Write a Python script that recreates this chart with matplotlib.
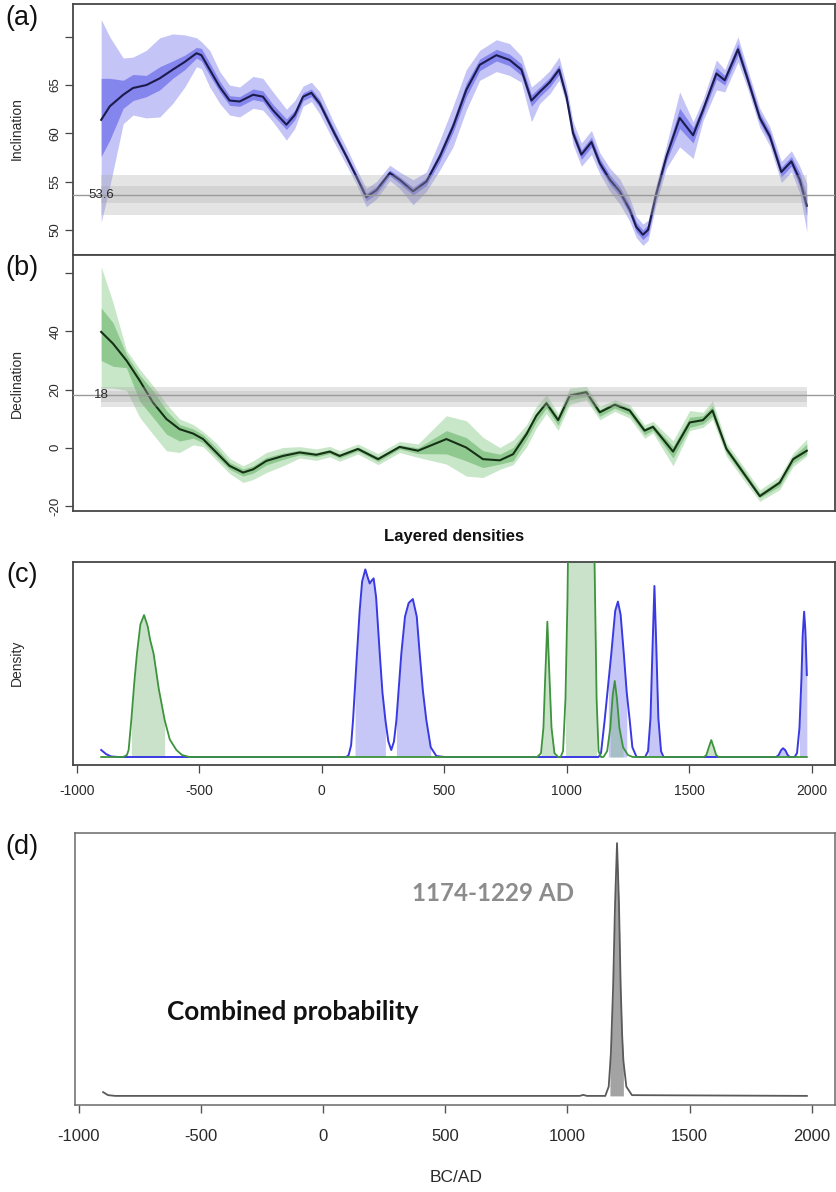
import numpy as np
import matplotlib
matplotlib.use('Agg')
import matplotlib.pyplot as plt

plt.rcParams['font.family'] = ['Liberation Sans', 'DejaVu Sans']
plt.rcParams['axes.unicode_minus'] = False

# ---------------- (a) Inclination ----------------
INC_YEARS = [-900, -865, -810, -770, -716, -661, -608, -559, -511, -491, -457, -416, -376, -335, -280,
             -240, -199, -144, -110, -76, -42, -8, 46, 101, 142, 182, 223, 278, 318, 373, 427, 482, 536,
             590, 645, 713, 767, 815, 856, 890, 931, 969, 999, 1026, 1060, 1101, 1135, 1176, 1216, 1257,
             1284, 1311, 1332, 1366, 1407, 1461, 1516, 1556, 1611, 1645, 1699, 1740, 1788, 1829, 1876,
             1917, 1951, 1980]
INC_MEAN = [61.4, 62.8, 64.0, 64.7, 65.0, 65.7, 66.6, 67.4, 68.3, 68.1, 66.6, 64.8, 63.4, 63.3, 64.0,
            63.8, 62.4, 60.9, 61.9, 63.8, 64.2, 63.1, 60.3, 57.6, 55.5, 53.4, 54.1, 55.9, 55.2, 54.0,
            55.0, 57.6, 60.7, 64.5, 67.1, 68.1, 67.6, 66.6, 63.4, 64.3, 65.3, 66.6, 63.8, 60.0, 57.8,
            59.1, 56.9, 55.2, 54.0, 52.1, 50.3, 49.5, 50.0, 53.8, 57.6, 61.6, 59.8, 62.4, 66.2, 65.5,
            68.7, 65.5, 61.6, 59.7, 56.0, 57.1, 55.2, 52.5]
INC_OUT_HI = [71.8, 70.0, 67.8, 67.9, 68.6, 69.9, 70.3, 70.2, 69.9, 69.5, 68.6, 66.4, 65.0, 64.8, 65.9,
              65.7, 64.3, 62.5, 63.4, 64.9, 65.3, 64.3, 61.3, 58.5, 56.3, 54.3, 55.0, 56.7, 56.0, 55.2,
              56.0, 59.3, 62.8, 66.6, 68.6, 69.7, 69.3, 68.0, 64.8, 65.5, 66.5, 67.9, 64.9, 61.2, 59.0,
              60.3, 58.0, 56.4, 55.3, 53.3, 51.4, 50.6, 51.0, 54.8, 58.8, 64.3, 61.2, 63.5, 67.6, 66.6,
              70.0, 66.5, 62.6, 60.7, 57.1, 58.2, 56.6, 54.8]
INC_OUT_LO = [50.8, 54.5, 61.0, 61.9, 61.6, 61.7, 63.1, 64.8, 66.9, 66.7, 64.8, 63.1, 61.9, 61.7, 62.6,
              62.4, 61.2, 59.3, 60.5, 62.8, 63.3, 62.0, 59.3, 56.7, 54.7, 52.4, 53.2, 55.1, 54.3, 52.6,
              54.0, 56.2, 58.6, 62.4, 65.5, 66.4, 66.0, 65.3, 61.2, 63.1, 64.1, 65.5, 63.0, 58.8, 56.6,
              57.8, 55.8, 54.0, 52.7, 50.9, 49.2, 48.4, 48.9, 52.8, 56.4, 58.6, 57.4, 61.3, 64.5, 64.3,
              67.4, 64.5, 60.6, 58.7, 54.9, 56.0, 53.8, 49.8]
INC_IN_HI = [65.7, 65.7, 65.5, 66.1, 66.0, 66.9, 67.5, 68.1, 68.9, 68.8, 67.3, 65.4, 63.9, 63.8, 64.6,
             64.4, 63.0, 61.5, 62.4, 64.2, 64.6, 63.5, 60.7, 57.9, 55.8, 53.8, 54.5, 56.2, 55.5, 54.4,
             55.4, 58.1, 61.3, 65.2, 67.7, 68.7, 68.2, 67.2, 64.0, 64.8, 65.8, 67.1, 64.2, 60.5, 58.3,
             59.6, 57.4, 55.7, 54.5, 52.6, 50.8, 50.0, 50.5, 54.3, 58.1, 62.6, 60.6, 62.9, 66.8, 66.0,
             69.3, 66.0, 62.1, 60.2, 56.5, 57.6, 55.9, 53.5]
INC_IN_LO = [57.6, 59.3, 62.6, 63.4, 63.8, 64.5, 65.7, 66.6, 67.8, 67.5, 66.0, 64.3, 62.9, 62.8, 63.5,
             63.3, 61.9, 60.4, 61.4, 63.4, 63.8, 62.7, 59.9, 57.3, 55.2, 53.0, 53.7, 55.6, 54.8, 53.6,
             54.6, 57.1, 60.1, 63.8, 66.5, 67.5, 67.0, 66.0, 62.8, 63.8, 64.8, 66.1, 63.4, 59.5, 57.3,
             58.6, 56.4, 54.7, 53.5, 51.6, 49.8, 49.0, 49.5, 53.3, 57.1, 60.5, 59.0, 61.9, 65.6, 65.0,
             68.1, 65.0, 61.1, 59.2, 55.5, 56.6, 54.5, 51.5]
INC_REF = 53.6
INC_REF_OUTER = (51.55, 55.7)
INC_REF_INNER = (52.8, 54.5)
INC_TICKS = [50, 55, 60, 65, 70]
INC_TICKLABELS = ['50', '55', '60', '65', '']

# ---------------- (b) Declination ----------------
DEC_YEARS = [-900, -852, -797, -743, -689, -634, -580, -525, -484, -430, -376, -321, -280, -226, -158,
             -90, -22, 33, 73, 148, 230, 318, 393, 509, 590, 658, 727, 781, 836, 876, 917, 965, 1012,
             1080, 1135, 1196, 1257, 1318, 1352, 1434, 1502, 1556, 1595, 1652, 1706, 1788, 1869, 1924,
             1980]
DEC_MEAN = [39.8, 35.8, 30.0, 23.1, 15.6, 9.9, 6.4, 4.9, 3.0, -1.6, -6.2, -8.5, -7.4, -4.5, -2.8,
            -1.6, -2.4, -1.3, -2.8, -0.4, -3.9, 0.3, -1.0, 3.0, 0.1, -3.9, -4.3, -2.2, 4.7, 11.0,
            15.3, 9.5, 17.9, 19.1, 12.2, 14.8, 12.8, 5.9, 7.2, -1.3, 8.7, 9.5, 12.8, -0.4, -6.8,
            -16.6, -12.0, -3.9, -1.0]
DEC_OUT_HI = [62.2, 50.0, 33.5, 27.0, 21.4, 15.1, 9.9, 8.0, 5.6, 1.6, -3.6, -6.2, -4.5, -1.6, 0.1,
              0.4, -0.4, 0.5, -1.0, 1.3, -2.0, 2.2, 1.3, 11.0, 9.3, 3.6, 0.1, 2.7, 7.9, 14.2,
              18.2, 11.8, 20.5, 21.1, 14.2, 16.5, 14.8, 7.9, 9.1, 2.4, 12.8, 12.2, 16.1, 1.7, -4.6,
              -14.4, -9.8, -1.8, 3.0]
DEC_OUT_LO = [20.5, 20.5, 19.7, 10.5, 4.7, -1.0, -1.6, 1.0, 0.4, -4.2, -8.8, -11.9, -10.9, -8.5, -6.2,
              -3.5, -4.3, -3.1, -4.6, -2.1, -5.8, -1.6, -3.3, -5.6, -9.7, -10.2, -7.4, -5.8, 0.3, 6.8,
              11.8, 6.0, 14.8, 16.5, 9.6, 12.5, 10.2, 3.3, 5.1, -6.2, 5.9, 7.0, 9.8, -2.9, -9.2,
              -18.4, -14.4, -6.4, -2.8]
DEC_IN_HI = [48.0, 43.0, 32.0, 25.0, 19.7, 12.8, 8.0, 6.5, 4.5, 0.0, -5.0, -7.3, -6.2, -3.3, -1.8,
             -0.8, -1.7, -0.6, -2.1, 0.3, -3.1, 1.0, 0.0, 5.9, 3.5, -1.0, -2.2, 0.1, 6.2, 12.0,
             16.4, 10.6, 18.8, 19.9, 13.1, 15.7, 13.7, 6.8, 8.0, 0.5, 10.5, 11.0, 14.4, 0.5, -5.7,
             -15.5, -11.0, -2.9, 1.3]
DEC_IN_LO = [30.0, 28.0, 27.5, 16.0, 10.5, 4.7, 2.3, 3.3, 1.7, -3.0, -7.4, -9.7, -8.7, -5.9, -4.0,
             -2.4, -3.1, -2.0, -3.5, -1.1, -4.7, -0.4, -2.0, -2.1, -4.5, -6.8, -5.6, -4.5, 2.8, 9.0,
             13.6, 7.7, 16.5, 17.6, 10.8, 13.6, 11.4, 4.5, 6.0, -3.5, 7.0, 8.2, 10.9, -1.8, -8.0,
             -17.2, -13.2, -5.2, -2.1]
DEC_REF = 18
DEC_REF_OUTER = (14.1, 21.0)
DEC_REF_INNER = (15.8, 19.6)
DEC_TICKS = [-20, 0, 20, 40, 60]
DEC_TICKLABELS = ['-20', '0', '20', '40', '']

# ---------------- (c) Layered densities ----------------
BLUE_X = [-900, -880, -860, -830, 100, 110, 120, 128, 136, 144, 155, 165, 178, 188, 196, 204, 212, 222,
          237, 248, 260, 272, 284, 295, 305, 315, 325, 340, 355, 372, 388, 400, 413, 427, 445, 468, 500,
          1130, 1140, 1155, 1170, 1182, 1198, 1209, 1220, 1233, 1245, 1257, 1268, 1285,
          1320, 1332, 1342, 1350, 1358, 1366, 1374, 1385, 1395,
          1855, 1865, 1875, 1883, 1892, 1902, 1910,
          1930, 1940, 1950, 1958, 1963, 1969, 1974, 1978, 1980]
BLUE_Y = [0.036, 0.015, 0.003, 0, 0, 0.01, 0.06, 0.19, 0.36, 0.53, 0.75, 0.9, 0.962, 0.92, 0.89, 0.905,
          0.916, 0.82, 0.53, 0.33, 0.19, 0.08, 0.036, 0.08, 0.19, 0.36, 0.53, 0.72, 0.79, 0.81, 0.72,
          0.53, 0.34, 0.19, 0.05, 0.005, 0,
          0, 0.02, 0.19, 0.38, 0.53, 0.75, 0.797, 0.73, 0.53, 0.33, 0.19, 0.05, 0,
          0, 0.03, 0.2, 0.55, 0.877, 0.55, 0.2, 0.03, 0,
          0, 0.01, 0.035, 0.045, 0.035, 0.01, 0,
          0, 0.02, 0.15, 0.4, 0.62, 0.745, 0.65, 0.5, 0.42]
BLUE_HPD = [(136, 260), (305, 445), (1170, 1245), (1332, 1385), (1865, 1902), (1950, 1980)]

GREEN_X = [-900, -810, -795, -788, -777, -765, -754, -740, -725, -710, -700, -686, -665, -641, -620,
           -593, -570, -540,
           880, 895, 905, 912, 921, 930, 938, 950, 965,
           975, 985, 995, 1003, 1008, 1020, 1060, 1100, 1110, 1116, 1122, 1130, 1140,
           1150, 1165, 1178, 1188, 1196, 1205, 1215, 1230, 1250, 1270,
           1560, 1570, 1580, 1590, 1600, 1610, 1620, 1980]
GREEN_Y = [0, 0, 0.01, 0.036, 0.19, 0.38, 0.53, 0.68, 0.728, 0.67, 0.60, 0.53, 0.35, 0.19, 0.09,
           0.036, 0.01, 0,
           0, 0.02, 0.15, 0.4, 0.694, 0.4, 0.15, 0.02, 0,
           0, 0.03, 0.3, 0.8, 1.3, 2.0, 2.3, 2.0, 1.3, 0.8, 0.3, 0.03, 0,
           0, 0.03, 0.15, 0.32, 0.39, 0.3, 0.15, 0.05, 0.01, 0,
           0, 0.01, 0.05, 0.087, 0.05, 0.01, 0, 0]
GREEN_HPD = [(-777, -641), (895, 950), (995, 1122), (1178, 1230), (1570, 1610)]

# ---------------- (d) Combined probability ----------------
COMB_X = [-900, -880, -850, 1050, 1065, 1080, 1155, 1169, 1174, 1178, 1187, 1195, 1203, 1211, 1218,
          1224, 1229, 1241, 1264, 1980]
COMB_Y = [0.015, 0.003, 0, 0, 0.004, 0, 0, 0.037, 0.11, 0.17, 0.43, 0.76, 1.0, 0.76, 0.43,
          0.24, 0.14, 0.037, 0.003, 0]
COMB_RANGE = (1174, 1229)
COMB_LABEL = '1174-1229 AD'

XTICKS = [-1000, -500, 0, 500, 1000, 1500, 2000]
XLIM = (-1015, 2095)

W, H = 836, 1192
fig = plt.figure(figsize=(W / 100, H / 100), dpi=100)


def rect(x0, y0, x1, y1):
    return [x0 / W, 1 - y1 / H, (x1 - x0) / W, (y1 - y0) / H]


SPINE = '#474747'
TXT = '#2a2a2a'


def style_box(ax, color=SPINE, lw=1.3):
    for s in ax.spines.values():
        s.set_color(color)
        s.set_linewidth(lw)


def style_y(ax, ticks, labels):
    ax.set_yticks(ticks)
    ax.set_yticklabels(labels)
    ax.tick_params(axis='y', length=5.5, width=0.9, color=SPINE, pad=3, labelsize=9.5, labelcolor=TXT)
    for t in ax.get_yticklabels():
        t.set_rotation(90)
        t.set_va('center')
        t.set_ha('right')
    ax.set_xticks([])


# ---- (a) ----
axa = fig.add_axes(rect(73, 4, 835, 255))
x = np.array(INC_YEARS)
axa.fill_between(x, INC_OUT_LO, INC_OUT_HI, color='#c4c4f6', lw=0, zorder=1)
axa.fill_between(x, INC_IN_LO, INC_IN_HI, color='#8585ee', lw=0, zorder=2)
axa.plot(x, INC_MEAN, color='#1b1b4d', lw=1.5, zorder=3, solid_joinstyle='round')
axa.fill_between([x[0], x[-1]], *INC_REF_OUTER, color='#a8a8a8', alpha=0.3, lw=0, zorder=4)
axa.fill_between([x[0], x[-1]], *INC_REF_INNER, color='#909090', alpha=0.2, lw=0, zorder=4)
axa.axhline(INC_REF, color='#9a9a9a', lw=1.0, zorder=5)
axa.text(x[0], INC_REF, f'{INC_REF}', ha='center', va='center', fontsize=9.5, color=TXT, zorder=6)
axa.set_xlim(*XLIM)
axa.set_ylim(47.4, 73.4)
style_y(axa, INC_TICKS, INC_TICKLABELS)
style_box(axa)

# ---- (b) ----
axb = fig.add_axes(rect(73, 255, 835, 511))
x = np.array(DEC_YEARS)
axb.fill_between(x, DEC_OUT_LO, DEC_OUT_HI, color='#c8e7c8', lw=0, zorder=1)
axb.fill_between(x, DEC_IN_LO, DEC_IN_HI, color='#90c990', lw=0, zorder=2)
axb.plot(x, DEC_MEAN, color='#163016', lw=1.5, zorder=3, solid_joinstyle='round')
axb.fill_between([x[0], x[-1]], *DEC_REF_OUTER, color='#a8a8a8', alpha=0.3, lw=0, zorder=4)
axb.fill_between([x[0], x[-1]], *DEC_REF_INNER, color='#909090', alpha=0.2, lw=0, zorder=4)
axb.axhline(DEC_REF, color='#9a9a9a', lw=1.0, zorder=5)
axb.text(x[0], DEC_REF, f'{DEC_REF}', ha='center', va='center', fontsize=9.5, color=TXT, zorder=6)
axb.set_xlim(*XLIM)
axb.set_ylim(-21.7, 66.2)
style_y(axb, DEC_TICKS, DEC_TICKLABELS)
style_box(axb)

# ---- (c) ----
axc = fig.add_axes(rect(73, 562, 835, 765))
bx, by = np.array(BLUE_X), np.array(BLUE_Y)
gx, gy = np.array(GREEN_X), np.array(GREEN_Y)
for a, b in BLUE_HPD:
    m = (bx >= a) & (bx <= b)
    axc.fill_between(bx[m], 0, by[m], color='#7878ee', alpha=0.42, lw=0, zorder=1)
for a, b in GREEN_HPD:
    m = (gx >= a) & (gx <= b)
    axc.fill_between(gx[m], 0, gy[m], color='#72b572', alpha=0.38, lw=0, zorder=2)
axc.plot(bx, by, color='#3a3ae2', lw=1.4, zorder=3)
axc.plot(gx, gy, color='#3d943d', lw=1.3, zorder=4)
axc.set_xlim(*XLIM)
axc.set_ylim(-0.041, 1.0)
axc.set_yticks([])
axc.set_xticks(XTICKS)
axc.set_xticklabels([str(v) for v in XTICKS])
axc.tick_params(axis='x', length=6, width=0.9, color=SPINE, pad=7.5, labelsize=10, labelcolor=TXT)
style_box(axc)

# ---- (d) ----
axd = fig.add_axes(rect(75, 833, 835, 1105))
cx, cy = np.array(COMB_X), np.array(COMB_Y)
m = (cx >= COMB_RANGE[0]) & (cx <= COMB_RANGE[1])
axd.fill_between(cx[m], 0, cy[m], color='#a3a3a3', lw=0, zorder=1)
axd.plot(cx, cy, color='#5a5a5a', lw=1.3, zorder=2)
axd.set_xlim(*XLIM)
axd.set_ylim(-0.036, 1.04)
axd.set_yticks([])
axd.set_xticks(XTICKS)
axd.set_xticklabels([str(v) for v in XTICKS])
axd.tick_params(axis='x', length=6, width=1.0, color='#555555', pad=11.5, labelsize=12, labelcolor=TXT)
style_box(axd, color='#6a6a6a', lw=1.1)
t_range = axd.text(694, 0.80, COMB_LABEL, ha='center', va='center', fontsize=18,
                   family=['Lato', 'DejaVu Sans'], fontweight='bold', color='#8c8c8c')
t_comb = axd.text(-122, 0.33, 'Combined probability', ha='center', va='center', fontsize=18,
                  family=['Lato', 'DejaVu Sans'], fontweight='bold', color='#111111')

# ---- figure texts ----
for lab, yc in [('(a)', 18), ('(b)', 268), ('(c)', 575), ('(d)', 847)]:
    fig.text(22 / W, 1 - yc / H, lab, ha='center', va='center', fontsize=19.5, color='#111111')
fig.text(17 / W, 1 - 129 / H, 'Inclination', rotation=90, ha='center', va='center', fontsize=10, color=TXT)
fig.text(17 / W, 1 - 383 / H, 'Declination', rotation=90, ha='center', va='center', fontsize=10, color=TXT)
fig.text(17 / W, 1 - 663 / H, 'Density', rotation=90, ha='center', va='center', fontsize=10, color=TXT)
fig.text(454 / W, 1 - 537 / H, 'Layered densities', ha='center', va='center', fontsize=12,
         fontweight='bold', color='#111111')
fig.text(456 / W, 1 - 1178 / H, 'BC/AD', ha='center', va='center', fontsize=12.5, color=TXT)


def fit_width(txt, target_px):
    fig.canvas.draw()
    r = fig.canvas.get_renderer()
    w = txt.get_window_extent(r).width
    txt.set_fontsize(txt.get_fontsize() * target_px / w)


fit_width(t_range, 162)
fit_width(t_comb, 252)

fig.savefig('out.png', dpi=100)
